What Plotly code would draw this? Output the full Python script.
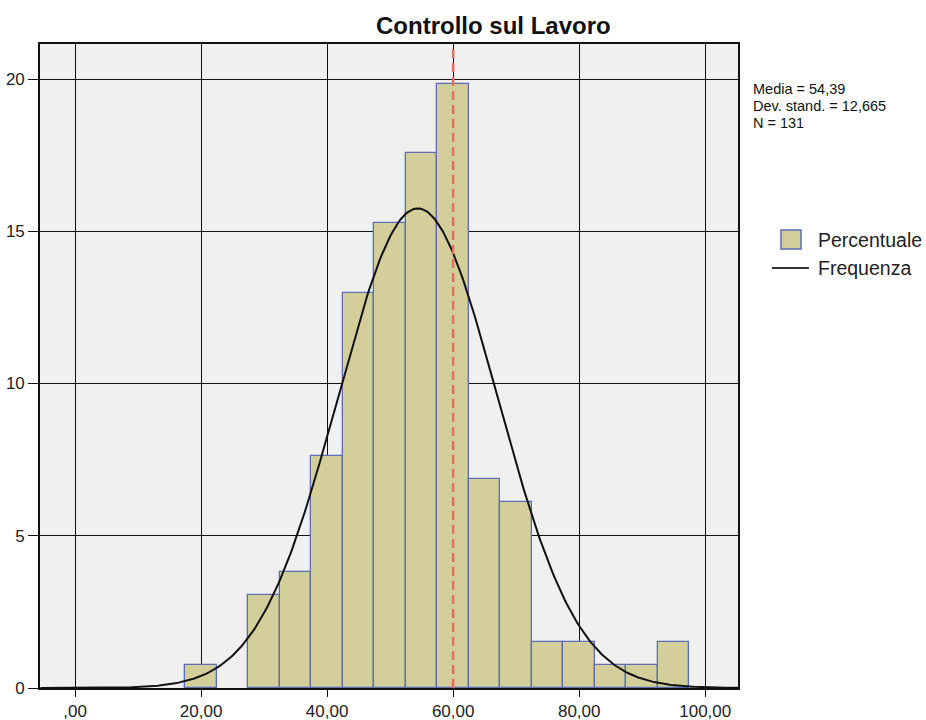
import numpy as np
import plotly.graph_objects as go

# Histogram bins (centre of each 5-point class) and counts
bin_centers = [20, 25, 30, 35, 40, 45, 50, 55, 60, 65, 70, 75, 80, 85, 90, 95]
counts = [1, 0, 4, 5, 10, 17, 20, 23, 26, 9, 8, 2, 2, 1, 1, 2]
n_total = 131
bin_width = 5

mean_val = 54.39
sd_val = 12.665
ref_line_x = 60

x_tick_vals = [0, 20, 40, 60, 80, 100]
x_tick_text = [",00", "20,00", "40,00", "60,00", "80,00", "100,00"]
y_tick_vals = [0, 5, 10, 15, 20]

stats_lines = ["Media = 54,39", "Dev. stand. = 12,665", "N = 131"]
legend_labels = ["Percentuale", "Frequenza"]

BAR_FILL = "#D3CE9A"
BAR_EDGE = "#5B6DB5"
CURVE = "#111111"

# Empty classes are not drawn
bx = [c for c, k in zip(bin_centers, counts) if k > 0]
by = [k / n_total * 100 for k in counts if k > 0]

# Fitted normal curve, scaled to percent per bin
xc = np.linspace(-5.5, 105.2, 400)
yc = 100 * bin_width * np.exp(-0.5 * ((xc - mean_val) / sd_val) ** 2) / (sd_val * np.sqrt(2 * np.pi))

font_family = "Liberation Sans, Arial, sans-serif"

fig = go.Figure()
fig.add_trace(go.Bar(
    x=bx, y=by, width=bin_width,
    marker=dict(color=BAR_FILL, line=dict(color=BAR_EDGE, width=1.3)),
    name=legend_labels[0],
))
fig.add_trace(go.Scatter(
    x=xc, y=yc, mode="lines",
    line=dict(color=CURVE, width=2),
    name=legend_labels[1],
))

# Reference line at 60
fig.add_shape(type="line", x0=ref_line_x, x1=ref_line_x, y0=0, y1=1, yref="paper",
              line=dict(color="#E2705C", width=2.5, dash="9px,5px"), layer="above")

# Legend box drawn at the right of the plot
fig.add_shape(type="rect", xref="paper", yref="paper",
              x0=1.0616, x1=1.0903, y0=0.6817, y1=0.7112,
              fillcolor=BAR_FILL, line=dict(color=BAR_EDGE, width=1.5))
fig.add_shape(type="line", xref="paper", yref="paper",
              x0=1.0487, x1=1.1017, y0=0.6522, y1=0.6522,
              line=dict(color="#333333", width=2))

annotations = [
    dict(text="<b>Controllo sul Lavoro</b>", x=0.649, y=1.0295, xref="paper", yref="paper",
         yanchor="middle", xanchor="center", showarrow=False,
         font=dict(size=24, color="#111111")),
]
for i, line in enumerate(stats_lines):
    annotations.append(dict(
        text=line, x=1.0186, y=[0.930, 0.9037, 0.8774][i], xref="paper", yref="paper",
        xanchor="left", yanchor="middle", showarrow=False,
        font=dict(size=14.5, color="#111111")))
for lab, yy in zip(legend_labels, [0.6957, 0.6522]):
    annotations.append(dict(
        text=lab, x=1.1117, y=yy, xref="paper", yref="paper",
        xanchor="left", yanchor="middle", showarrow=False,
        font=dict(size=19.5, color="#222222")))

fig.update_layout(
    width=926, height=720,
    margin=dict(l=40, r=188, t=44, b=32, autoexpand=False),
    paper_bgcolor="white", plot_bgcolor="#F0F0F0",
    font=dict(family=font_family, size=17, color="#222222"),
    bargap=0,
    showlegend=False,
    annotations=annotations,
)
fig.update_xaxes(
    range=[-5.56, 105.2], tickvals=x_tick_vals, ticktext=x_tick_text,
    showgrid=True, gridcolor="#111111", gridwidth=1.3,
    showline=True, linecolor="#111111", linewidth=1.6, mirror=True,
    ticks="outside", ticklen=7, tickcolor="#111111", zeroline=False,
    tickfont=dict(size=17), automargin=False,
)
fig.update_yaxes(
    range=[0, 21.15], tickvals=y_tick_vals,
    showgrid=True, gridcolor="#111111", gridwidth=1.3,
    showline=True, linecolor="#111111", linewidth=1.6, mirror=True,
    ticks="outside", ticklen=10, tickcolor="#111111", zeroline=False,
    tickfont=dict(size=17), automargin=False,
)

fig.write_html("out.html")
